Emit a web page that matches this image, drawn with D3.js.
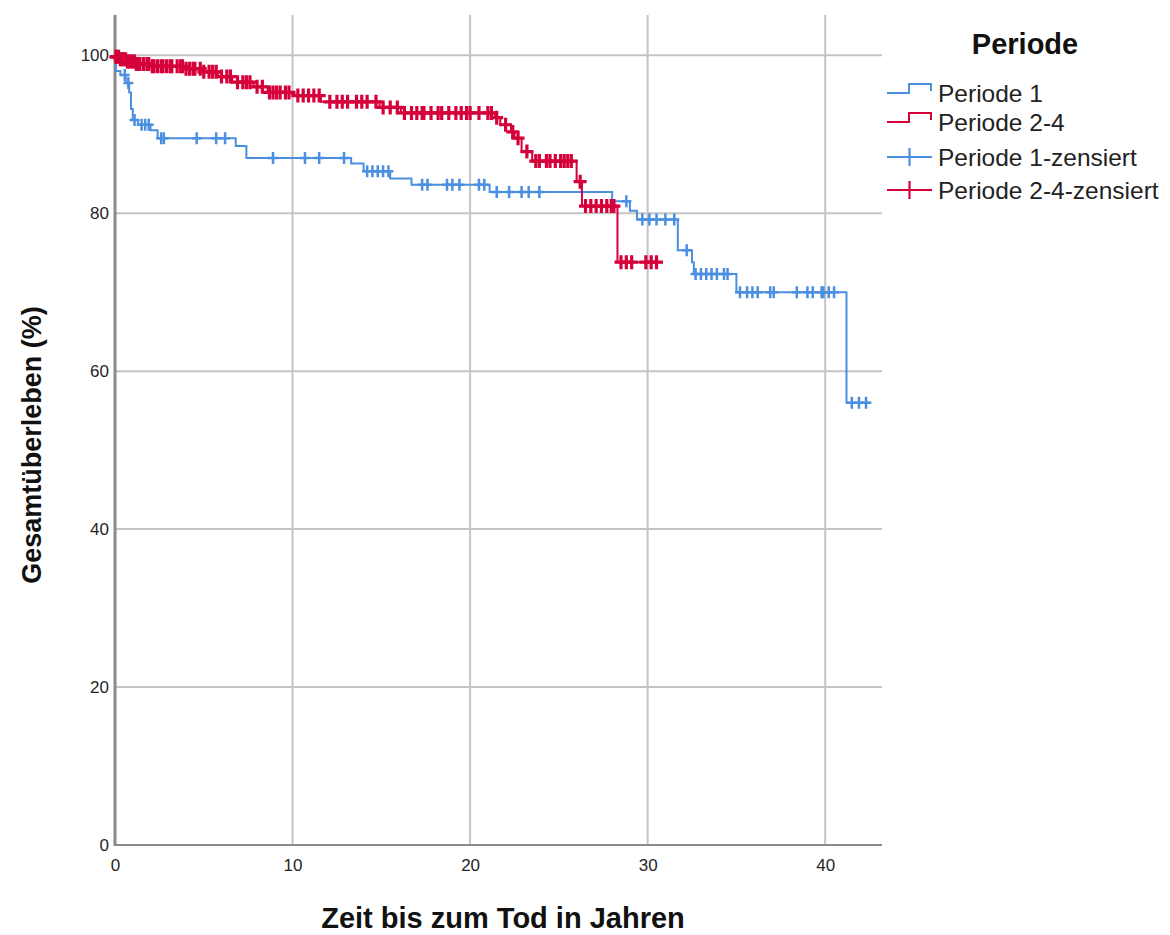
<!DOCTYPE html>
<html>
<head>
<meta charset="utf-8">
<script src="https://cdn.jsdelivr.net/npm/d3@7"></script>
<style>
  html, body { margin: 0; padding: 0; background: #fff; }
  svg { display: block; font-family: "Liberation Sans", Arial, sans-serif; }
</style>
</head>
<body>
<svg id="chart" width="1170" height="935"></svg>
<script>
// Kaplan-Meier estimates: [time in years, survival % after the event]
const period1Steps = [
  [0.05, 98.0], [0.3, 97.5], [0.6, 96.5], [0.8, 95.3], [0.9, 93.2], [1.0, 91.8],
  [1.3, 91.2], [2.0, 90.5], [2.4, 89.5], [6.8, 88.5], [7.4, 87.0], [13.3, 86.3],
  [14.0, 85.3], [15.5, 84.4], [16.7, 83.6], [21.1, 82.7], [28.0, 81.5], [29.0, 80.3],
  [29.4, 79.2], [31.7, 75.3], [32.5, 73.8], [32.6, 72.3], [35.0, 70.0], [41.2, 56.0]
];
const period1Censored = [
  0.55, 0.75, 1.1, 1.5, 1.7, 1.9, 2.6, 2.75, 4.6, 5.7, 6.2, 8.9, 10.7, 11.5, 12.9,
  14.2, 14.5, 14.8, 15.1, 15.4, 17.3, 17.6, 18.7, 19.0, 19.4, 20.5, 20.8, 21.5, 22.2,
  22.9, 23.3, 23.9, 28.8, 29.7, 30.1, 30.5, 31.0, 31.5, 32.2, 32.7, 33.0, 33.3, 33.6,
  33.9, 34.3, 34.5, 35.2, 35.6, 35.9, 36.2, 36.9, 37.1, 38.4, 39.0, 39.3, 39.8, 39.9,
  40.2, 40.5, 41.5, 41.9, 42.3
];
const period1End = 42.6;

const period24Steps = [
  [0.05, 99.8], [0.3, 99.5], [0.7, 99.2], [1.2, 98.9], [2.0, 98.6], [4.0, 98.3],
  [5.0, 97.9], [5.8, 97.3], [6.6, 96.6], [7.8, 96.0], [8.6, 95.3], [10.0, 94.9],
  [11.6, 94.1], [14.9, 93.4], [16.1, 92.7], [21.4, 92.1], [21.7, 91.2], [22.3, 90.3],
  [22.5, 89.5], [22.9, 87.8], [23.5, 86.6], [26.0, 84.0], [26.3, 80.9], [28.3, 73.8]
];
const period24Censored = [
  0.05, 0.1, 0.2, 0.3, 0.4, 0.5, 0.6, 0.7, 0.8, 0.9, 1.0, 1.1, 1.2, 1.3, 1.4, 1.6, 1.8,
  1.9, 2.1, 2.2, 2.4, 2.6, 2.7, 2.9, 3.1, 3.2, 3.5, 3.7, 3.8, 4.0, 4.2, 4.4, 4.5, 4.8,
  5.0, 5.3, 5.5, 5.7, 6.0, 6.3, 6.5, 6.9, 7.2, 7.4, 7.6, 8.0, 8.3, 8.7, 8.9, 9.1, 9.3,
  9.6, 9.8, 10.3, 10.6, 10.9, 11.2, 11.5, 12.1, 12.5, 12.8, 13.1, 13.6, 13.9, 14.2,
  14.7, 15.1, 15.5, 15.9, 16.3, 16.7, 17.0, 17.3, 17.4, 17.8, 18.2, 18.4, 18.8, 19.2,
  19.5, 19.8, 20.0, 20.5, 21.0, 21.2, 21.5, 22.0, 22.4, 22.7, 23.2, 23.7, 23.9, 24.3,
  24.5, 24.8, 25.1, 25.3, 25.5, 25.7, 26.2, 26.5, 26.8, 27.1, 27.4, 27.7, 27.95, 28.1,
  28.5, 28.8, 29.1, 29.9, 30.2, 30.5
];
const period24End = 30.8;

const xTicks = [0, 10, 20, 30, 40];
const yTicks = [0, 20, 40, 60, 80, 100];
const legendLabels = ["Periode 1", "Periode 2-4", "Periode 1-zensiert", "Periode 2-4-zensiert"];
const colors = { p1: "#4b8fe0", p24: "#d6003a" };

const svg = d3.select("#chart");
const plot = { left: 115, right: 882, top: 15, bottom: 845 };

const x = d3.scaleLinear().domain([0, 43.2]).range([plot.left, plot.right]);
const y = d3.scaleLinear().domain([0, 105.1]).range([plot.bottom, plot.top]);

// grid
const grid = svg.append("g").attr("stroke", "#c4c4c4").attr("stroke-width", 2);
grid.selectAll("line.v").data(xTicks.filter(d => d > 0)).join("line")
  .attr("x1", d => x(d)).attr("x2", d => x(d))
  .attr("y1", plot.top).attr("y2", plot.bottom);
grid.selectAll("line.h").data(yTicks.filter(d => d > 0)).join("line")
  .attr("x1", plot.left).attr("x2", plot.right)
  .attr("y1", d => y(d)).attr("y2", d => y(d));

// axes
const xAxis = svg.append("g").attr("transform", `translate(0,${plot.bottom})`)
  .call(d3.axisBottom(x).tickValues(xTicks).tickSize(0).tickPadding(14));
const yAxis = svg.append("g").attr("transform", `translate(${plot.left},0)`)
  .call(d3.axisLeft(y).tickValues(yTicks).tickSize(0).tickPadding(6));
[xAxis, yAxis].forEach(a => {
  a.select(".domain").remove();
  a.selectAll("text").attr("font-size", 17).attr("fill", "#262626")
    .attr("font-family", "Liberation Sans, Arial, sans-serif");
});
svg.append("line").attr("x1", plot.left).attr("x2", plot.right)
  .attr("y1", plot.bottom).attr("y2", plot.bottom)
  .attr("stroke", "#8a8a8a").attr("stroke-width", 2);
svg.append("line").attr("x1", plot.left).attr("x2", plot.left)
  .attr("y1", plot.top).attr("y2", plot.bottom + 1)
  .attr("stroke", "#8a8a8a").attr("stroke-width", 3);

// survival curves
function survivalAt(steps, t) {
  let s = 100;
  for (const [ti, si] of steps) { if (ti <= t) s = si; else break; }
  return s;
}
function stepPath(steps, end) {
  const p = d3.path();
  p.moveTo(x(0), y(100));
  let s = 100;
  for (const [t, v] of steps) {
    p.lineTo(x(t), y(s));
    p.lineTo(x(t), y(v));
    s = v;
  }
  p.lineTo(x(end), y(s));
  return p.toString();
}
function drawSeries(steps, censored, end, color, halfV, halfH, width) {
  const g = svg.append("g");
  g.append("path").attr("d", stepPath(steps, end))
    .attr("fill", "none").attr("stroke", color).attr("stroke-width", 2);
  g.selectAll("path.c").data(censored).join("path")
    .attr("d", t => {
      const cx = x(t), cy = y(survivalAt(steps, t));
      return `M${cx},${cy - halfV}V${cy + halfV}M${cx - halfH},${cy}H${cx + halfH}`;
    })
    .attr("fill", "none").attr("stroke", color).attr("stroke-width", width);
}
drawSeries(period1Steps, period1Censored, period1End, colors.p1, 6, 5, 2.5);
drawSeries(period24Steps, period24Censored, period24End, colors.p24, 7, 6.5, 3.2);

// axis titles
svg.append("text").attr("x", 503).attr("y", 928).attr("text-anchor", "middle")
  .attr("font-size", 29).attr("font-weight", "bold").attr("fill", "#111")
  .text("Zeit bis zum Tod in Jahren");
svg.append("text").attr("transform", "translate(41,445) rotate(-90)")
  .attr("text-anchor", "middle").attr("font-size", 27).attr("font-weight", "bold")
  .attr("fill", "#111").text("Gesamtüberleben (%)");

// legend
const lg = svg.append("g");
lg.append("text").attr("x", 1025).attr("y", 54).attr("text-anchor", "middle")
  .attr("font-size", 29).attr("font-weight", "bold").attr("fill", "#111").text("Periode");
const rowY = [93, 122, 157, 190];
const rowColor = [colors.p1, colors.p24, colors.p1, colors.p24];
legendLabels.forEach((label, i) => {
  const yy = rowY[i];
  if (i < 2) {
    lg.append("path")
      .attr("d", `M887,${yy}H909V${yy - 9}H931V${yy - 2}`)
      .attr("fill", "none").attr("stroke", rowColor[i]).attr("stroke-width", 2);
  } else {
    lg.append("path")
      .attr("d", `M887,${yy}H932M909.5,${yy - 9}V${yy + 9}`)
      .attr("fill", "none").attr("stroke", rowColor[i]).attr("stroke-width", 2.2);
  }
  lg.append("text").attr("x", 938).attr("y", yy + 8.5).attr("font-size", 24.5)
    .attr("fill", "#222").text(label);
});
</script>
</body>
</html>
